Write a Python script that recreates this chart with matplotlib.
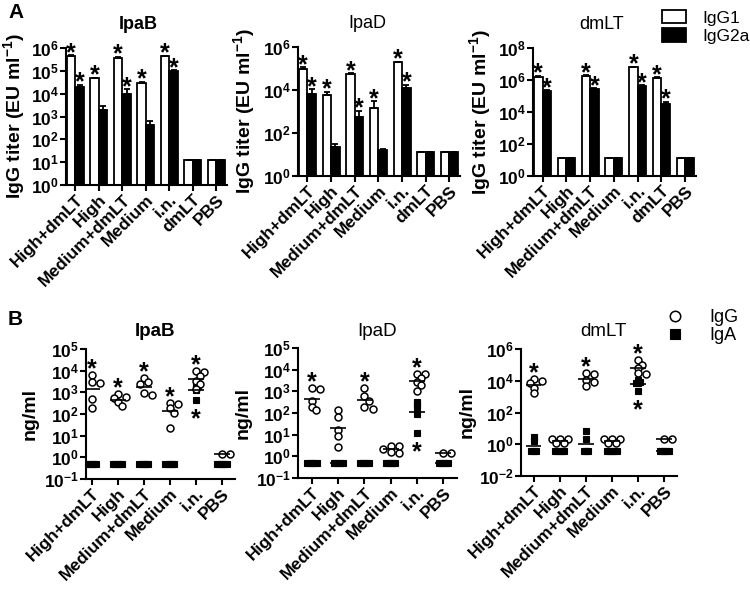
import numpy as np
import matplotlib
matplotlib.use('Agg')
import matplotlib.pyplot as plt

plt.rcParams['font.family'] = ['Liberation Sans', 'DejaVu Sans']
plt.rcParams['mathtext.fontset'] = 'custom'
plt.rcParams['mathtext.rm'] = 'Liberation Sans:bold'
plt.rcParams['mathtext.bf'] = 'Liberation Sans:bold'
plt.rcParams['mathtext.default'] = 'rm'

# ---- panel A data (titer, EU/ml) ----
groups_a = ['High+dmLT', 'High', 'Medium+dmLT', 'Medium', 'i.n.', 'dmLT', 'PBS']

ipab_g1 = [4.5e5, 4.8e4, 3.8e5, 3.0e4, 4.3e5, 12.5, 12.5]
ipab_g1_err = [4e4, 3e3, 3e4, 3e3, 3e4, 0, 0]
ipab_g2 = [1.9e4, 1.9e3, 1.0e4, 4.1e2, 9.5e4, 12.5, 12.5]
ipab_g2_err = [6e3, 1.1e3, 6e3, 2.4e2, 1e4, 0, 0]
ipab_s1 = [1, 1, 1, 1, 1, 0, 0]
ipab_s2 = [1, 0, 1, 0, 1, 0, 0]

ipad_g1 = [9.5e4, 6.0e3, 5.8e4, 1.45e3, 1.95e5, 12.5, 12.5]
ipad_g1_err = [2.2e4, 2.5e3, 4e3, 1.5e3, 1.4e4, 0, 0]
ipad_g2 = [6.8e3, 23, 5.5e2, 16, 1.23e4, 12.5, 12.5]
ipad_g2_err = [4.2e3, 8, 5.2e2, 2, 5.5e3, 0, 0]
ipad_s1 = [1, 1, 1, 1, 1, 0, 0]
ipad_s2 = [1, 0, 1, 0, 1, 0, 0]

dmlt_g1 = [1.65e6, 12.5, 1.9e6, 12.5, 6.3e6, 1.3e6, 12.5]
dmlt_g1_err = [2e5, 0, 1.5e5, 0, 4e5, 1.5e5, 0]
dmlt_g2 = [2.0e5, 12.5, 2.6e5, 12.5, 4.5e5, 3.2e4, 12.5]
dmlt_g2_err = [3e4, 0, 4e4, 0, 4e4, 1.3e4, 0]
dmlt_s1 = [1, 0, 1, 0, 1, 1, 0]
dmlt_s2 = [1, 0, 1, 0, 1, 1, 0]

# ---- panel B data (ng/ml, individual mice) ----
groups_b = ['High+dmLT', 'High', 'Medium+dmLT', 'Medium', 'i.n.', 'PBS']

ipab_igg = [[6300, 2900, 2800, 490, 195],
            [810, 590, 520, 350, 235],
            [4500, 3100, 2300, 890, 760],
            [330, 280, 180, 115, 22],
            [9500, 8900, 5600, 3300, 2400, 1400],
            [1.5, 1.5]]
ipab_iga = [[0.5] * 5, [0.5] * 5, [0.5] * 5, [0.5] * 5,
            [2200, 2000, 1600, 1250, 450],
            [0.5] * 5]
ipab_sg = [1, 1, 1, 1, 1, 0]
ipab_sa = [0, 0, 0, 0, 1, 0]

ipad_igg = [[1400, 1250, 370, 195, 140],
            [140, 63, 17, 8.7, 2.8],
            [1500, 600, 355, 195, 160],
            [3.0, 3.0, 2.2, 1.6, 1.4],
            [6300, 6300, 4000, 2800, 1950, 1070],
            [1.4, 1.4]]
ipad_iga = [[0.5] * 5, [0.5] * 5, [0.5] * 5, [0.5] * 5,
            [330, 250, 195, 90, 11.5],
            [0.5] * 5]
ipad_sg = [1, 0, 1, 0, 1, 0]
ipad_sa = [0, 0, 0, 0, 1, 0]

dmlt_igg = [[12600, 10200, 6900, 3400, 1600],
            [2.1, 2.1, 2.1, 1.26, 1.26],
            [29500, 25700, 11200, 8000, 4800],
            [2.1, 2.1, 2.1, 1.26, 1.26],
            [204000, 100000, 62000, 29500, 25700],
            [2.1, 2.1]]
dmlt_iga = [[2.8, 1.7, 0.4, 0.4, 0.4],
            [0.4] * 5,
            [7.2, 2.1, 0.4, 0.4, 0.4],
            [0.4] * 5,
            [11200, 8900, 6900, 6900, 2400],
            [0.4] * 5]
dmlt_sg = [1, 0, 1, 0, 1, 0]
dmlt_sa = [0, 0, 0, 0, 1, 0]

W, H = 750, 590
fig = plt.figure(figsize=(W / 100, H / 100), dpi=100)


def px_axes(l, t, r, b):
    return fig.add_axes([l / W, 1 - b / H, (r - l) / W, (b - t) / H])


def style(ax):
    for s in ['top', 'right']:
        ax.spines[s].set_visible(False)
    for s in ['left', 'bottom']:
        ax.spines[s].set_linewidth(1.5)
    ax.tick_params(width=1.5, length=4, pad=1)
    ax.minorticks_off()


def set_log_ticks(ax, lo, hi, step):
    ex = list(range(lo, hi + 1, step))
    ax.set_yticks([10.0 ** e for e in ex])
    ax.set_yticklabels(['$10^{%d}$' % e for e in ex], fontsize=12.5)
    ax.minorticks_off()


def star(ax, x, y):
    ax.annotate('*', (x, y), xytext=(0, -3.5), textcoords='offset points',
                ha='center', va='baseline', fontsize=18, fontweight='bold')


def bar_panel(ax, g1, e1, g2, e2, s1, s2, top, step, title, tx, bold, ylx):
    ax.set_yscale('log')
    x = np.arange(len(groups_a))
    w = 0.36
    g1 = np.array(g1, float)
    g2 = np.array(g2, float)
    b1 = ax.bar(x - w / 2, g1 - 1, w, bottom=1, color='white', edgecolor='black', lw=1.3)
    b2 = ax.bar(x + w / 2, g2 - 1, w, bottom=1, color='black', edgecolor='black', lw=1.3)
    ax.errorbar(x - w / 2, g1, yerr=[np.zeros(len(x)), e1], fmt='none', ecolor='black',
                elinewidth=1.3, capsize=2.5, capthick=1.3)
    ax.errorbar(x + w / 2, g2, yerr=[np.zeros(len(x)), e2], fmt='none', ecolor='black',
                elinewidth=1.3, capsize=2.5, capthick=1.3)
    for i in range(len(x)):
        if s1[i]:
            star(ax, x[i] - w / 2, g1[i] + e1[i])
        if s2[i]:
            star(ax, x[i] + w / 2, g2[i] + e2[i])
    ax.set_xlim(-0.4, 6.45)
    ax.set_ylim(1, 10.0 ** top)
    set_log_ticks(ax, 0, top, step)
    ax.set_xticks(x)
    ax.set_xticklabels(groups_a, rotation=45, ha='right', rotation_mode='anchor',
                       fontsize=12.5, fontweight='bold')
    ax.set_ylabel('IgG titer (EU ml$^{-1}$)', fontsize=14, fontweight='bold')
    ax.yaxis.set_label_coords(ylx, 0.5)
    ax.set_title(title, fontsize=13, fontweight='bold' if bold else 'normal', x=tx, pad=14)
    style(ax)
    return b1, b2


def swarm(vals, ppu, ppd, step_px, mind_px):
    logs = np.log10(np.array(vals, float))
    order = np.argsort(-logs, kind='stable')
    placed = []
    offs = np.zeros(len(logs))
    for i in order:
        for k in [0, 1, -1, 2, -2, 3, -3, 4, -4]:
            dx = k * step_px
            ok = all((dx - ox) ** 2 + ((logs[i] - oy) * ppd) ** 2 >= mind_px ** 2
                     for ox, oy in placed)
            if ok:
                break
        offs[i] = dx / ppu
        placed.append((dx, logs[i]))
    return offs


def dot_panel(ax, igg, iga, sg, sa, lo, hi, step, xlim, ppd, title, tx, bold, ylx):
    ax.set_yscale('log')
    ppu = 26.1
    hg = ha = None
    for i in range(len(groups_b)):
        a = np.array(iga[i], float)
        g = np.array(igg[i], float)
        oa = swarm(a, ppu, ppd, 2.3, 2.3)
        og = swarm(g, ppu, ppd, 4.0, 5.0)
        ha = ax.plot(i + oa, a, 's', ms=4.6, mfc='black', mec='black', mew=0.8, ls='none')[0]
        hg = ax.plot(i + og, g, 'o', ms=5.0, mfc='white', mec='black', mew=1.1, ls='none')[0]
        ax.hlines(10 ** np.mean(np.log10(a)), i - 0.3, i + 0.3, color='black', lw=1.2)
        ax.hlines(10 ** np.mean(np.log10(g)), i - 0.3, i + 0.3, color='black', lw=1.2)
        if sg[i]:
            ax.annotate('*', (i, g.max()), xytext=(0, -1), textcoords='offset points',
                        ha='center', va='baseline', fontsize=18, fontweight='bold')
        if sa[i]:
            ax.annotate('*', (i, a.min()), xytext=(0, -19), textcoords='offset points',
                        ha='center', va='baseline', fontsize=18, fontweight='bold')
    ax.set_xlim(*xlim)
    ax.set_ylim(10.0 ** lo, 10.0 ** hi)
    set_log_ticks(ax, lo, hi, step)
    ax.set_xticks(range(len(groups_b)))
    ax.set_xticklabels(groups_b, rotation=45, ha='right', rotation_mode='anchor',
                       fontsize=12.5, fontweight='bold')
    ax.set_ylabel('ng/ml', fontsize=14, fontweight='bold')
    ax.yaxis.set_label_coords(ylx, 0.5)
    ax.set_title(title, fontsize=13.5, fontweight='bold' if bold else 'normal', x=tx, pad=9)
    style(ax)
    return hg, ha


ax1 = px_axes(66, 48, 227, 185)
bar_panel(ax1, ipab_g1, ipab_g1_err, ipab_g2, ipab_g2_err, ipab_s1, ipab_s2,
          6, 1, 'IpaB', 0.45, True, -0.24)
ax2 = px_axes(298, 47, 460, 176)
bar_panel(ax2, ipad_g1, ipad_g1_err, ipad_g2, ipad_g2_err, ipad_s1, ipad_s2,
          6, 2, 'IpaD', 0.43, False, -0.255)
ax3 = px_axes(533, 48, 696, 176)
b1, b2 = bar_panel(ax3, dmlt_g1, dmlt_g1_err, dmlt_g2, dmlt_g2_err, dmlt_s1, dmlt_s2,
                   8, 2, 'dmLT', 0.42, False, -0.245)
fig.legend([b1, b2], ['IgG1', 'IgG2a'], loc='upper left', bbox_to_anchor=(662 / W, 1 - 10 / H),
           frameon=False, fontsize=12.5, handlelength=1.4, handleheight=0.8,
           handletextpad=0.9, labelspacing=0.15, borderpad=0, borderaxespad=0)

bx1 = px_axes(86, 349, 235, 479)
dot_panel(bx1, ipab_igg, ipab_iga, ipab_sg, ipab_sa, -1, 5, 1, (-0.22, 5.5), 21.7,
          'IpaB', 0.46, True, -0.32)
bx2 = px_axes(298, 348, 457, 478)
dot_panel(bx2, ipad_igg, ipad_iga, ipad_sg, ipad_sa, -1, 5, 1, (-0.53, 5.52), 21.7,
          'IpaD', 0.5, False, -0.29)
bx3 = px_axes(521, 349, 677, 476)
hg, ha = dot_panel(bx3, dmlt_igg, dmlt_iga, dmlt_sg, dmlt_sa, -2, 6, 2, (-0.48, 5.49), 15.9,
                   'dmLT', 0.53, False, -0.29)
fig.legend([hg, ha], ['IgG', 'IgA'], loc='upper left', bbox_to_anchor=(664 / W, 1 - 309 / H),
           frameon=False, fontsize=13, markerscale=1.5, handlelength=1.2,
           handletextpad=1.3, labelspacing=0.05, borderpad=0, borderaxespad=0)

fig.text(8 / W, 1 - 3 / H, 'A', fontsize=15, fontweight='bold', va='top')
fig.text(8 / W, 1 - 310 / H, 'B', fontsize=15, fontweight='bold', va='top')

fig.savefig('out.png', dpi=100)
